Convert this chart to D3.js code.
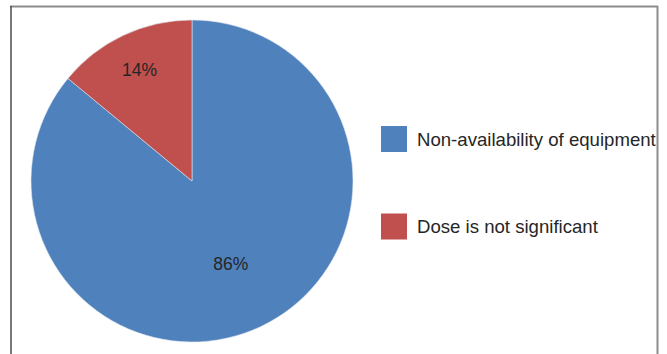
<!DOCTYPE html>
<html>
<head>
<meta charset="utf-8">
<script src="https://cdn.jsdelivr.net/npm/d3@7"></script>
<style>
  html, body { margin: 0; padding: 0; background: #fff; }
  svg { display: block; }
</style>
</head>
<body>
<svg id="chart" width="667" height="354"></svg>
<script>
// Reasons given, share of responses (%)
const categories = ["Non-availability of equipment", "Dose is not significant"];
const values = [86, 14];
const valueLabels = ["86%", "14%"];
const colors = ["#4F81BD", "#C0504D"];

// Layout
const W = 667, H = 354;
const cx = 192, cy = 181, R = 161;
const labelRadius = [0.565, 0.765]; // fraction of R for each slice label

const svg = d3.select("#chart");

// Frame around the chart area (extends below the visible area)
const frame = svg.append("g");
frame.append("line").attr("x1", 10).attr("x2", 658).attr("y1", 6.5).attr("y2", 6.5)
  .attr("stroke", "#8c8c8c").attr("stroke-width", 2);
frame.append("line").attr("x1", 11).attr("x2", 11).attr("y1", 6).attr("y2", H)
  .attr("stroke", "#4d4d4d").attr("stroke-width", 1.5);
frame.append("line").attr("x1", 657.5).attr("x2", 657.5).attr("y1", 6).attr("y2", H)
  .attr("stroke", "#8c8c8c").attr("stroke-width", 2);

svg.append("defs").append("clipPath").attr("id", "plotClip")
  .append("rect").attr("x", 12).attr("y", 7).attr("width", 644.5).attr("height", H);

const g = svg.append("g").attr("clip-path", "url(#plotClip)");

// Pie: first slice clockwise from 12 o'clock
const pie = d3.pie().sort(null).value(d => d.v);
const arcs = pie(categories.map((c, i) => ({ c, v: values[i], i })));
const arc = d3.arc().innerRadius(0).outerRadius(R);

const pieG = g.append("g").attr("transform", `translate(${cx},${cy})`);
pieG.selectAll("path.slice").data(arcs).join("path")
  .attr("class", "slice")
  .attr("d", arc)
  .attr("fill", d => colors[d.data.i])
  .attr("stroke", "#dfe6ef")
  .attr("stroke-width", 0.6);

pieG.selectAll("text.val").data(arcs).join("text")
  .attr("class", "val")
  .attr("transform", d => {
    const r = R * labelRadius[d.data.i];
    const la = d3.arc().innerRadius(r).outerRadius(r);
    const [x, y] = la.centroid(d);
    return `translate(${x},${y})`;
  })
  .attr("text-anchor", "middle")
  .attr("dy", "0.36em")
  .attr("font-family", "Liberation Sans, Arial, sans-serif")
  .attr("font-size", 17.5)
  .attr("fill", "#262626")
  .text(d => valueLabels[d.data.i]);

// Legend
const legendY = d3.scalePoint().domain(categories).range([139, 226.5]);
const lg = g.append("g").selectAll("g").data(categories).join("g")
  .attr("transform", d => `translate(381,${legendY(d)})`);
lg.append("rect")
  .attr("x", 0).attr("y", -13).attr("width", 26).attr("height", 26)
  .attr("fill", (d, i) => colors[i]);
lg.append("text")
  .attr("x", 36).attr("y", 0).attr("dy", "0.35em")
  .attr("font-family", "Liberation Sans, Arial, sans-serif")
  .attr("font-size", 18.6)
  .attr("fill", "#262626")
  .text(d => d);
</script>
</body>
</html>
